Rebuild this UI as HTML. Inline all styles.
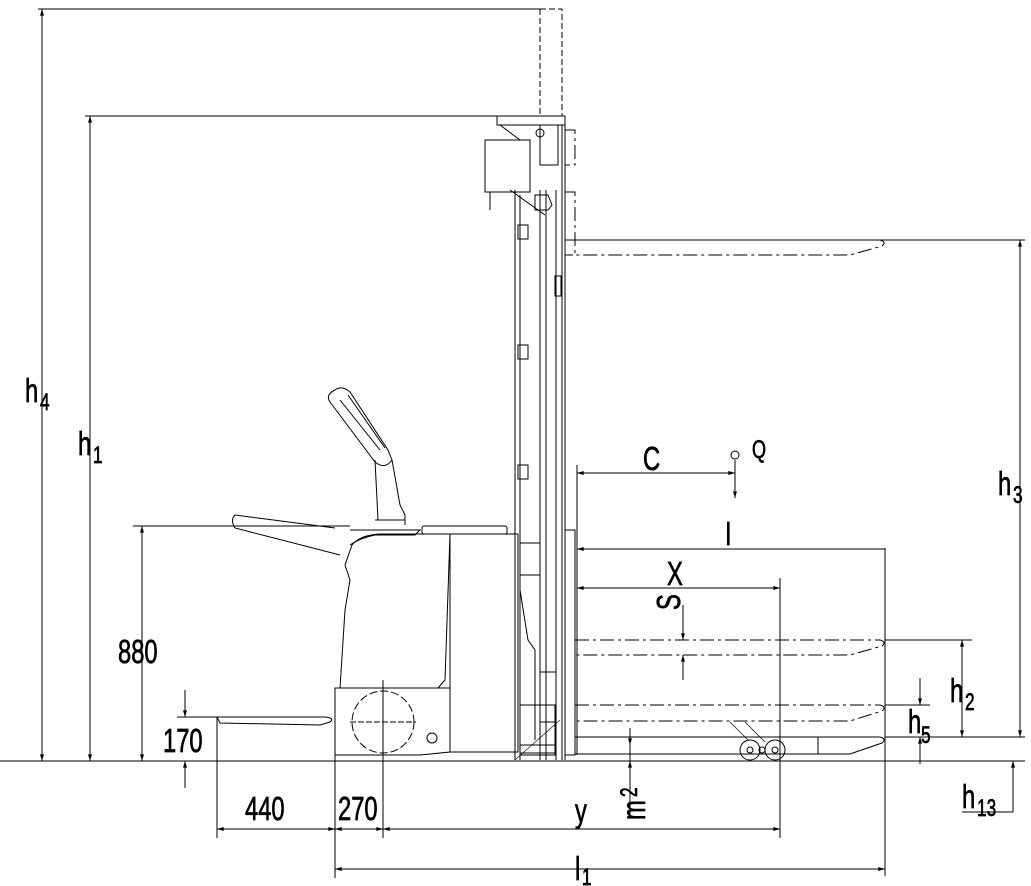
<!DOCTYPE html>
<html><head><meta charset="utf-8"><style>
html,body{margin:0;padding:0;background:#fff}
svg{display:block}
text{font-family:"Liberation Sans",sans-serif;fill:#000;stroke:#000;stroke-width:0.7}
</style></head><body>
<svg width="1031" height="886" viewBox="0 0 1031 886" xmlns="http://www.w3.org/2000/svg">
<defs>
<marker id="a" viewBox="0 0 10 6" refX="10" refY="3" markerWidth="10" markerHeight="4" orient="auto-start-reverse" markerUnits="userSpaceOnUse"><path d="M0,0 L10,3 L0,6z" fill="#000"/></marker>
</defs>
<g stroke="#000" fill="none" stroke-width="1">
<line x1="0" y1="761" x2="1025" y2="761"/>
<line x1="38" y1="9" x2="540" y2="9"/>
<rect x="540" y="9" width="22" height="107" stroke-dasharray="6,3"/>
<line x1="85" y1="116" x2="565" y2="116"/>
<line x1="42" y1="9" x2="42" y2="761" marker-start="url(#a)" marker-end="url(#a)"/>
<line x1="90" y1="116" x2="90" y2="761" marker-start="url(#a)" marker-end="url(#a)"/>
<line x1="133" y1="526" x2="350" y2="526"/>
<line x1="142" y1="526" x2="142" y2="761" marker-start="url(#a)" marker-end="url(#a)"/>
<line x1="177" y1="717" x2="217" y2="717"/>
<line x1="185" y1="690" x2="185" y2="717" marker-end="url(#a)"/>
<line x1="185" y1="788" x2="185" y2="761" marker-end="url(#a)"/>
<line x1="217" y1="717" x2="217" y2="838"/>
<line x1="335" y1="688" x2="335" y2="878"/>
<line x1="383" y1="680" x2="383" y2="838"/>
<line x1="780" y1="578" x2="780" y2="838"/>
<line x1="885" y1="548" x2="885" y2="876"/>
<line x1="217" y1="829" x2="335" y2="829" marker-start="url(#a)" marker-end="url(#a)"/>
<line x1="335" y1="829" x2="383" y2="829" marker-start="url(#a)" marker-end="url(#a)"/>
<line x1="383" y1="829" x2="780" y2="829" marker-start="url(#a)" marker-end="url(#a)"/>
<line x1="335" y1="869" x2="885" y2="869" marker-start="url(#a)" marker-end="url(#a)"/>
<line x1="630" y1="728" x2="630" y2="745" marker-end="url(#a)"/>
<line x1="630" y1="780" x2="630" y2="761" marker-end="url(#a)"/>
<line x1="630" y1="745" x2="630" y2="817"/>
<line x1="565" y1="240" x2="1025" y2="240"/>
<line x1="1020" y1="240" x2="1020" y2="737" marker-start="url(#a)" marker-end="url(#a)"/>
<line x1="885" y1="640" x2="972" y2="640"/>
<line x1="962" y1="640" x2="962" y2="737" marker-start="url(#a)" marker-end="url(#a)"/>
<line x1="885" y1="705" x2="930" y2="705"/>
<line x1="920" y1="678" x2="920" y2="705" marker-end="url(#a)"/>
<line x1="920" y1="764" x2="920" y2="737" marker-end="url(#a)"/>
<line x1="885" y1="737" x2="1025" y2="737"/>
<line x1="1013" y1="812" x2="1013" y2="761" marker-end="url(#a)"/>
<line x1="962" y1="812" x2="1013" y2="812"/>
<line x1="577" y1="465" x2="577" y2="755"/>
<line x1="577" y1="473" x2="735" y2="473" marker-start="url(#a)" marker-end="url(#a)"/>
<line x1="735" y1="460" x2="735" y2="498" marker-end="url(#a)"/>
<circle cx="735" cy="455" r="4"/>
<line x1="577" y1="549" x2="885" y2="549" marker-start="url(#a)"/>
<line x1="577" y1="588" x2="780" y2="588" marker-start="url(#a)" marker-end="url(#a)"/>
<line x1="683" y1="605" x2="683" y2="640" marker-end="url(#a)"/>
<line x1="683" y1="680" x2="683" y2="655" marker-end="url(#a)"/>
<g stroke-dasharray="14,4,3,4">
<path d="M575,240 H880 Q887,242 882,246 L850,255 H575"/>
<path d="M575,640 H880 Q887,642 882,646 L850,655 H575"/>
<path d="M575,705 H880 Q887,707 882,711 L850,721 H575"/>
<path d="M565,192 H575 V255 H565"/>
<path d="M565,130 H575 V165 H565"/>
</g>
<path d="M575,737 H880 Q887,739 882,743 L850,754 H575"/>
<rect x="575" y="737" width="243" height="17"/>
<circle cx="750" cy="750" r="10"/><circle cx="775" cy="750" r="10"/>
<circle cx="750" cy="750" r="3"/><circle cx="762" cy="750" r="3"/><circle cx="775" cy="750" r="3"/>
<path d="M730,722 L748,740 M745,722 L765,742" stroke-width="0.7"/>
<path d="M515,760 L560,720" stroke-width="0.6"/>
<line x1="515" y1="190" x2="515" y2="760"/>
<line x1="520" y1="195" x2="520" y2="760"/>
<line x1="540" y1="190" x2="540" y2="760"/>
<line x1="546" y1="190" x2="546" y2="760"/>
<line x1="556" y1="190" x2="556" y2="760"/>
<line x1="562" y1="125" x2="562" y2="760"/>
<line x1="565" y1="125" x2="565" y2="760"/>
<rect x="565" y="530" width="10" height="225"/>
<rect x="518" y="225" width="10" height="14"/><rect x="518" y="345" width="10" height="14"/><rect x="518" y="465" width="10" height="14"/>
<rect x="555" y="276" width="6" height="20"/>
<rect x="520" y="543" width="20" height="32"/>
<path d="M520,590 L528,640 L535,650 V740"/>
<rect x="540" y="672" width="16" height="50"/>
<rect x="520" y="705" width="35" height="50"/>
<path d="M520,745 H555 V753 H520 Z"/>
<path d="M497,116 H565 V125 H497 Z"/>
<rect x="485" y="140" width="45" height="52"/>
<rect x="540" y="125" width="18" height="40"/>
<circle cx="540" cy="133" r="4"/>
<path d="M500,125 L520,140 M510,190 L545,215 M490,192 V210"/>
<path d="M535,195 H548 L552,205 L548,210 H535 Z"/>
<path d="M335,688 H450 V752 L420,755 H335 Z"/>
<circle cx="383" cy="722" r="31" stroke-dasharray="8,3"/>
<line x1="350" y1="722" x2="416" y2="722" stroke-dasharray="6,2"/>
<circle cx="432" cy="738" r="5"/>
<rect x="450" y="534" width="68" height="218"/>
<path d="M340,688 L345,610 L350,580 L345,565 L352,545 Q360,535 380,534 L450,534"/>
<path d="M350,545 Q360,538 375,535 H415 L420,530 H350"/>
<rect x="422" y="526" width="85" height="8" rx="2"/>
<path d="M450,534 L445,680 L438,688"/>
<path d="M335,528 L235,515 Q230,520 235,528 L340,555"/>
<path d="M375,460 L378,520 M392,460 L400,505 L405,515 L405,525 M375,520 H405"/>
<path d="M335,390 Q325,395 330,402 L375,462 Q385,470 392,460 L388,450 L350,392 Q342,385 335,390 Z"/>
<path d="M340,400 L380,450 M348,395 L385,448"/>
<path d="M217,717 H325 Q335,718 330,722 L320,725 L220,723 Z"/>
</g>
<g font-size="33">
<text transform="translate(25,402) scale(0.72,1)">h</text><text transform="translate(40,410) scale(0.72,1)" font-size="24">4</text>
<text transform="translate(78,455) scale(0.72,1)">h</text><text transform="translate(93,463) scale(0.72,1)" font-size="24">1</text>
<text transform="translate(118,663) scale(0.72,1)">880</text>
<text transform="translate(163,752) scale(0.72,1)">170</text>
<text transform="translate(245,820) scale(0.72,1)">440</text>
<text transform="translate(338,820) scale(0.72,1)">270</text>
<text transform="translate(575,822) scale(0.72,1)">y</text>
<text transform="translate(645,820) rotate(-90) scale(0.72,1)">m</text><text transform="translate(637,797) rotate(-90) scale(0.72,1)" font-size="24">2</text>
<text transform="translate(575,880) scale(0.72,1)">l</text><text transform="translate(582,885) scale(0.72,1)" font-size="24">1</text>
<text transform="translate(643,470) scale(0.72,1)">C</text>
<text transform="translate(752,458) scale(0.72,1)" font-size="25">Q</text>
<text transform="translate(725,545) scale(0.72,1)">I</text>
<text transform="translate(667,585) scale(0.72,1)">X</text>
<text transform="translate(680,610) rotate(-90) scale(0.72,1)">S</text>
<text transform="translate(998,495) scale(0.72,1)">h</text><text transform="translate(1013,503) scale(0.72,1)" font-size="24">3</text>
<text transform="translate(950,702) scale(0.72,1)">h</text><text transform="translate(965,710) scale(0.72,1)" font-size="24">2</text>
<text transform="translate(908,733) scale(0.72,1)">h</text><text transform="translate(921,743) scale(0.72,1)" font-size="24">5</text>
<text transform="translate(962,808) scale(0.72,1)">h</text><text transform="translate(977,816) scale(0.72,1)" font-size="24">13</text>
</g>
</svg>
</body></html>
